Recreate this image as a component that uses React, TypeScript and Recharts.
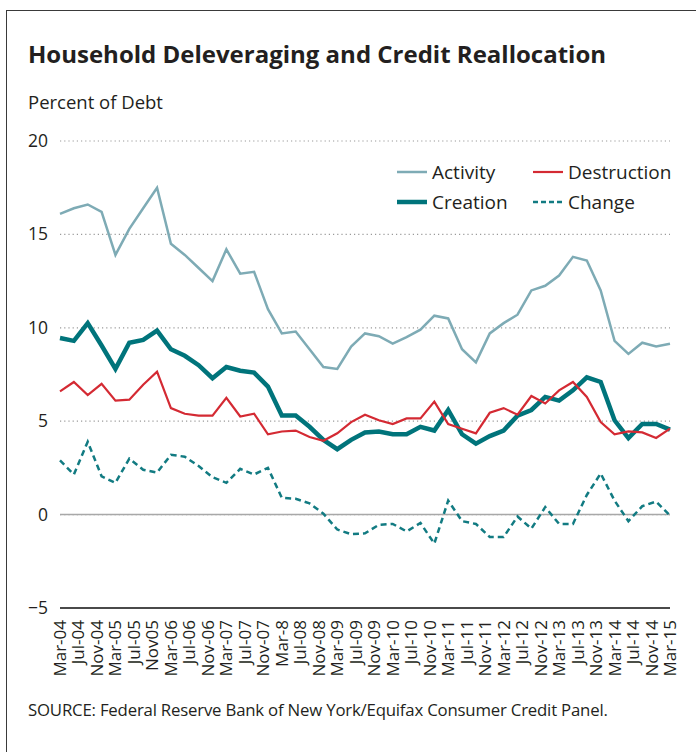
import { CartesianGrid, Line, LineChart, ReferenceLine, XAxis, YAxis } from "recharts";

const FONT = '"Open Sans", "Noto Sans", sans-serif';

// quarterly, months since Mar-04
const months = Array.from({ length: 45 }, (_, i) => i * 3);

const activity = [
  16.1, 16.4, 16.6, 16.2, 13.9, 15.3, 16.4, 17.5, 14.5, 13.9, 13.2, 12.5, 14.2, 12.9, 13.0,
  11.0, 9.7, 9.8, 8.85, 7.9, 7.8, 9.0, 9.7, 9.55, 9.15, 9.5, 9.9, 10.65, 10.5, 8.85, 8.15,
  9.7, 10.25, 10.7, 12.0, 12.25, 12.8, 13.8, 13.6, 12.0, 9.3, 8.6, 9.2, 9.0, 9.15,
];
const creation = [
  9.45, 9.3, 10.25, 9.05, 7.8, 9.2, 9.35, 9.85, 8.85, 8.5, 8.0, 7.3, 7.9, 7.7, 7.6, 6.85,
  5.3, 5.3, 4.7, 4.0, 3.5, 4.0, 4.4, 4.45, 4.3, 4.3, 4.7, 4.5, 5.6, 4.3, 3.8, 4.2, 4.5, 5.3,
  5.6, 6.3, 6.1, 6.65, 7.35, 7.1, 5.05, 4.1, 4.85, 4.85, 4.55,
];
const destruction = [
  6.6, 7.1, 6.4, 7.0, 6.1, 6.15, 6.95, 7.65, 5.7, 5.4, 5.3, 5.3, 6.25, 5.25, 5.4, 4.3, 4.45,
  4.5, 4.15, 3.95, 4.35, 4.95, 5.35, 5.05, 4.85, 5.15, 5.15, 6.05, 4.85, 4.6, 4.35, 5.45,
  5.7, 5.35, 6.35, 5.95, 6.65, 7.1, 6.3, 4.95, 4.3, 4.45, 4.4, 4.1, 4.6,
];
const change = [
  2.9, 2.15, 3.9, 2.05, 1.7, 3.0, 2.4, 2.25, 3.2, 3.1, 2.6, 2.0, 1.7, 2.45, 2.15, 2.5, 0.9,
  0.85, 0.6, 0.05, -0.8, -1.05, -1.0, -0.55, -0.5, -0.9, -0.45, -1.55, 0.75, -0.35, -0.5,
  -1.2, -1.2, -0.1, -0.75, 0.4, -0.5, -0.5, 1.05, 2.2, 0.75, -0.35, 0.45, 0.7, -0.05,
];

const tickLabels = [
  "Mar-04", "Jul-04", "Nov-04", "Mar-05", "Jul-05", "Nov05", "Mar-06", "Jul-06", "Nov-06",
  "Mar-07", "Jul-07", "Nov-07", "Mar-8", "Jul-08", "Nov-08", "Mar-09", "Jul-09", "Nov-09",
  "Mar-10", "Jul-10", "Nov-10", "Mar-11", "Jul-11", "Nov-11", "Mar-12", "Jul-12", "Nov-12",
  "Mar-13", "Jul-13", "Nov-13", "Mar-14", "Jul-14", "Nov-14", "Mar-15",
];
const tickMonths = tickLabels.map((_, i) => i * 4);
const yTicks = [-5, 0, 5, 10, 15, 20];

const COLORS = {
  activity: "#7eabb5",
  creation: "#00747b",
  destruction: "#d42a33",
  change: "#127b82",
};

const data = months.map((m, i) => ({
  m,
  activity: activity[i],
  creation: creation[i],
  destruction: destruction[i],
  change: change[i],
}));

function XTick({ x, y, payload }: any) {
  const label = tickLabels[Math.round(payload.value / 4)];
  return (
    <text
      transform={`translate(${x + 6},${y}) rotate(-90)`}
      textAnchor="end"
      fontSize={17}
      fontFamily={FONT}
      fill="#231f20"
    >
      {label}
    </text>
  );
}

function YTick({ x, y, payload }: any) {
  const v = payload.value;
  return (
    <text x={x} y={y} dy={6} textAnchor="end" fontSize={17.5} fontFamily={FONT} fill="#231f20">
      {v < 0 ? `\u2212${Math.abs(v)}` : v}
    </text>
  );
}

const legendItems = [
  { key: "activity", label: "Activity", width: 2.5, dash: undefined },
  { key: "destruction", label: "Destruction", width: 2.2, dash: undefined },
  { key: "creation", label: "Creation", width: 4.5, dash: undefined },
  { key: "change", label: "Change", width: 2.5, dash: "5 3" },
] as const;

function LegendBox() {
  return (
    <div
      style={{
        position: "absolute",
        left: 397,
        top: 157,
        display: "grid",
        gridTemplateColumns: "136px 140px",
        fontFamily: FONT,
        fontSize: 19,
        color: "#231f20",
      }}
    >
      {legendItems.map((it) => (
        <div key={it.key} style={{ display: "flex", alignItems: "center", height: 30 }}>
          <svg width={30} height={10} style={{ marginRight: 5 }}>
            <line
              x1={0}
              x2={30}
              y1={5}
              y2={5}
              stroke={COLORS[it.key]}
              strokeWidth={it.width}
              strokeDasharray={it.dash}
            />
          </svg>
          {it.label}
        </div>
      ))}
    </div>
  );
}

export default function App() {
  return (
    <div
      style={{
        position: "absolute",
        left: 0,
        top: 0,
        width: 696,
        height: 752,
        background: "#fff",
        overflow: "hidden",
        fontFamily: FONT,
        color: "#231f20",
      }}
    >
      <div
        style={{
          position: "absolute",
          left: 6,
          top: 10,
          width: 700,
          height: 760,
          borderLeft: "1.5px solid #3a3a3a",
          borderTop: "1.5px solid #3a3a3a",
        }}
      />
      <div
        style={{
          position: "absolute",
          left: 28,
          top: 37,
          fontSize: 24,
          fontWeight: 700,
          lineHeight: "normal",
          whiteSpace: "nowrap",
        }}
      >
        Household Deleveraging and Credit Reallocation
      </div>
      <div style={{ position: "absolute", left: 28, top: 89, fontSize: 18.5, whiteSpace: "nowrap" }}>
        Percent of Debt
      </div>
      <div
        style={{
          position: "absolute",
          left: 28,
          top: 698,
          fontSize: 16.8,
          letterSpacing: -0.2,
          whiteSpace: "nowrap",
        }}
      >
        SOURCE: Federal Reserve Bank of New York/Equifax Consumer Credit Panel.
      </div>

      <div style={{ position: "absolute", left: 0, top: 0 }}>
        <LineChart
          width={696}
          height={752}
          data={data}
          margin={{ top: 141, right: 26, bottom: 64, left: 0 }}
        >
          <CartesianGrid
            vertical={false}
            stroke="#9a9a9a"
            strokeDasharray="1.2 3"
            strokeWidth={1.2}
          />
          <XAxis
            dataKey="m"
            type="number"
            domain={[0, 132]}
            ticks={tickMonths}
            interval={0}
            height={80}
            tickSize={0}
            tickMargin={12}
            tick={<XTick />}
            axisLine={{ stroke: "#4a4a4a", strokeWidth: 2 }}
          />
          <YAxis
            type="number"
            domain={[-5, 20]}
            ticks={yTicks}
            width={60}
            tickSize={0}
            tickMargin={12}
            axisLine={false}
            tick={<YTick />}
          />
          <ReferenceLine y={0} stroke="#a8a8a8" strokeWidth={1.5} />
          <Line
            dataKey="activity"
            stroke={COLORS.activity}
            strokeWidth={2.5}
            dot={false}
            isAnimationActive={false}
          />
          <Line
            dataKey="change"
            stroke={COLORS.change}
            strokeWidth={2.5}
            strokeDasharray="6 4"
            dot={false}
            isAnimationActive={false}
          />
          <Line
            dataKey="creation"
            stroke={COLORS.creation}
            strokeWidth={4.5}
            dot={false}
            isAnimationActive={false}
          />
          <Line
            dataKey="destruction"
            stroke={COLORS.destruction}
            strokeWidth={2.2}
            dot={false}
            isAnimationActive={false}
          />
        </LineChart>
      </div>
      <LegendBox />
    </div>
  );
}
